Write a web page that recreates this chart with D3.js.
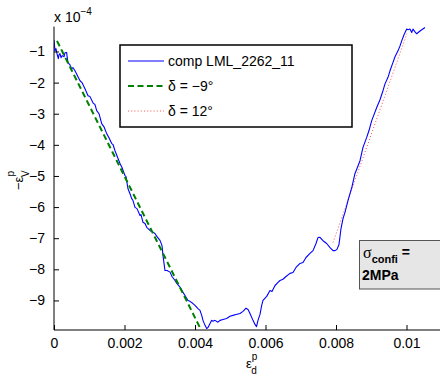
<!DOCTYPE html>
<html>
<head>
<meta charset="utf-8">
<script src="https://cdn.jsdelivr.net/npm/d3@7"></script>
<style>
  html, body { margin: 0; padding: 0; background: #fff; }
  svg { display: block; font-family: "Liberation Sans", Arial, sans-serif; }
</style>
</head>
<body>
<svg id="chart" width="440" height="376"></svg>
<script>
// ---- data (x in units of 1e-3, y in units of 1e-4) ----
const compX = [0,0.028,0.057,0.085,0.122,0.142,0.170,0.199,0.227,0.255,0.284,0.312,0.360,0.369,0.397,0.454,0.502,0.539,0.596,0.652,0.738,0.794,0.879,0.965,1.021,1.106,1.163,1.211,1.277,1.353,1.418,1.495,1.560,1.637,1.674,1.730,1.816,1.872,1.929,2.014,2.043,2.099,2.156,2.204,2.241,2.298,2.355,2.440,2.468,2.525,2.582,2.630,2.723,2.865,2.922,3.007,3.064,3.092,3.149,3.206,3.291,3.348,3.433,3.489,3.574,3.660,3.716,3.801,3.858,3.943,4.000,4.085,4.142,4.190,4.227,4.284,4.332,4.369,4.426,4.474,4.511,4.567,4.652,4.709,4.794,4.899,4.993,5.078,5.163,5.277,5.362,5.447,5.504,5.560,5.645,5.702,5.745,5.787,5.844,5.892,5.929,6.034,6.128,6.184,6.270,6.355,6.411,6.496,6.582,6.695,6.780,6.865,6.979,7.064,7.149,7.262,7.348,7.433,7.489,7.546,7.631,7.736,7.830,7.915,7.972,8.028,8.085,8.113,8.142,8.199,8.255,8.340,8.397,8.454,8.539,8.596,8.681,8.738,8.766,8.871,8.936,9.013,9.078,9.155,9.248,9.333,9.390,9.475,9.532,9.617,9.674,9.759,9.816,9.864,9.929,10.006,10.043,10.099,10.147,10.184,10.241,10.289,10.383,10.525];
const compY = [-0.63,-0.98,-0.91,-1.07,-1.23,-1.11,-1.07,-1.20,-1.14,-1.14,-1.17,-1.04,-1.03,-1.14,-1.36,-1.43,-1.56,-1.52,-1.62,-1.75,-1.94,-2.00,-2.20,-2.42,-2.45,-2.65,-2.71,-2.90,-3.00,-3.32,-3.42,-3.64,-3.77,-3.96,-3.99,-4.19,-4.44,-4.60,-4.73,-4.99,-5.02,-5.41,-5.57,-5.73,-5.79,-6.01,-6.05,-6.27,-6.24,-6.49,-6.53,-6.65,-6.75,-6.85,-6.95,-7.07,-7.24,-7.56,-8.04,-8.04,-8.09,-8.23,-8.36,-8.46,-8.57,-8.74,-8.84,-9.00,-9.03,-9.10,-9.16,-9.26,-9.32,-9.48,-9.64,-9.80,-9.90,-9.87,-9.74,-9.64,-9.67,-9.64,-9.70,-9.64,-9.61,-9.58,-9.51,-9.48,-9.45,-9.42,-9.35,-9.25,-9.29,-9.42,-9.64,-9.77,-9.84,-9.64,-9.45,-9.16,-9.00,-8.87,-8.68,-8.71,-8.52,-8.42,-8.36,-8.32,-8.23,-8.13,-8.10,-7.94,-7.81,-7.78,-7.62,-7.49,-7.40,-7.17,-6.98,-6.97,-7.08,-7.17,-7.30,-7.40,-7.40,-7.36,-7.20,-6.95,-6.69,-6.37,-6.17,-5.79,-5.57,-5.34,-4.92,-4.76,-4.51,-4.22,-4.08,-3.76,-3.54,-3.22,-3.03,-2.80,-2.55,-2.26,-2.04,-1.83,-1.62,-1.35,-1.17,-0.98,-0.82,-0.66,-0.46,-0.28,-0.30,-0.28,-0.39,-0.28,-0.37,-0.43,-0.34,-0.23];
const fitNegX = [0.085, 4.14];   // delta = -9 deg
const fitNegY = [-0.66, -9.87];
const fitPosX = [7.915, 10.01];  // delta = 12 deg
const fitPosY = [-7.14, -0.43];

const xTicks = [0, 2, 4, 6, 8, 10];
const xTickLabels = ["0", "0.002", "0.004", "0.006", "0.008", "0.01"];
const yTicks = [-9, -8, -7, -6, -5, -4, -3, -2, -1];
const yTickLabels = ["\u22129", "\u22128", "\u22127", "\u22126", "\u22125", "\u22124", "\u22123", "\u22122", "\u22121"];
const legendLabels = ["comp LML_2262_11", "\u03b4 = \u22129\u00b0", "\u03b4 = 12\u00b0"];

// ---- layout ----
const svg = d3.select("#chart");
const x = d3.scaleLinear().domain([0, 11]).range([54, 441.75]);
const y = d3.scaleLinear().domain([-9.95, -0.2]).range([330, 26.6]);

svg.append("defs").append("clipPath").attr("id", "clip")
  .append("rect").attr("x", 54).attr("y", 26.6).attr("width", 388).attr("height", 303.4);

const line = d3.line().x(d => x(d[0])).y(d => y(d[1]));

const plot = svg.append("g").attr("clip-path", "url(#clip)");

plot.append("path")
  .datum(d3.zip(fitPosX, fitPosY))
  .attr("d", line).attr("fill", "none")
  .attr("stroke", "#ff5050").attr("stroke-width", 1).attr("stroke-dasharray", "1,2.2");

plot.append("path")
  .datum(d3.zip(compX, compY))
  .attr("d", line).attr("fill", "none")
  .attr("stroke", "#0000ff").attr("stroke-width", 1.1).attr("stroke-linejoin", "round");

plot.append("path")
  .datum(d3.zip(fitNegX, fitNegY))
  .attr("d", line).attr("fill", "none")
  .attr("stroke", "#008000").attr("stroke-width", 2).attr("stroke-dasharray", "6,3.5");

// ---- axes ----
const xAxis = d3.axisBottom(x).tickValues(xTicks).tickSizeInner(-5).tickSizeOuter(0)
  .tickFormat((d, i) => xTickLabels[i]).tickPadding(8);
const gx = svg.append("g").attr("transform", "translate(0,330)").call(xAxis);
gx.select(".domain").attr("d", "M54,0H440").attr("stroke", "#000");
gx.selectAll("text").attr("font-size", 14).attr("font-family", "Liberation Sans, Arial, sans-serif").attr("fill", "#000");

const yAxis = d3.axisLeft(y).tickValues(yTicks).tickSizeInner(-5).tickSizeOuter(0)
  .tickFormat((d, i) => yTickLabels[i]).tickPadding(9);
const gy = svg.append("g").attr("transform", "translate(54,0)").call(yAxis);
gy.select(".domain").attr("d", "M0,26.6V330").attr("stroke", "#000");
gy.selectAll("text").attr("font-size", 14).attr("font-family", "Liberation Sans, Arial, sans-serif").attr("fill", "#000");

// exponent label
const expT = svg.append("text").attr("x", 54).attr("y", 22).attr("font-size", 14).attr("fill", "#000");
expT.append("tspan").text("x 10");
expT.append("tspan").attr("dy", -7).attr("font-size", 10).text("\u22124");

// x label
const xl = svg.append("text").attr("x", 246).attr("y", 368).attr("font-size", 13).attr("fill", "#000");
xl.append("tspan").text("\u03b5");
xl.append("tspan").attr("font-size", 10).attr("dy", -8).text("p");
xl.append("tspan").attr("font-size", 10).attr("dx", -6).attr("dy", 14).text("d");

// y label (rotated)
const yl = svg.append("text").attr("transform", "translate(23,190) rotate(-90)").attr("font-size", 13).attr("fill", "#000");
yl.append("tspan").text("\u2212\u03b5");
yl.append("tspan").attr("font-size", 10).attr("dy", -9).text("p");
yl.append("tspan").attr("font-size", 10).attr("dx", -6).attr("dy", 15).text("V");

// ---- legend ----
const lg = svg.append("g");
lg.append("rect").attr("x", 120).attr("y", 45).attr("width", 232).attr("height", 82)
  .attr("fill", "#fff").attr("stroke", "#000").attr("stroke-width", 1.5);
const legStyles = [
  {stroke: "#0000ff", width: 1, dash: null},
  {stroke: "#008000", width: 2, dash: "6,3.5"},
  {stroke: "#ff5050", width: 1, dash: "1,2.2"}
];
const legY = [61, 86, 111];
legendLabels.forEach((lab, i) => {
  lg.append("line").attr("x1", 128).attr("x2", 164).attr("y1", legY[i]).attr("y2", legY[i])
    .attr("stroke", legStyles[i].stroke).attr("stroke-width", legStyles[i].width)
    .attr("stroke-dasharray", legStyles[i].dash);
  lg.append("text").attr("x", 168).attr("y", legY[i] + 5).attr("font-size", 14).attr("fill", "#000").text(lab);
});

// ---- annotation box ----
const an = svg.append("g");
an.append("rect").attr("x", 359.5).attr("y", 240.5).attr("width", 100).attr("height", 48.5)
  .attr("fill", "#e6e6e6").attr("stroke", "#555").attr("stroke-width", 1);
const at = an.append("text").attr("x", 363).attr("y", 258).attr("fill", "#000").attr("font-weight", "bold");
at.append("tspan").attr("font-family", "Liberation Serif, Times New Roman, serif").attr("font-weight", "normal").attr("font-size", 16).text("\u03c3");
at.append("tspan").attr("font-size", 11).attr("dy", 5).text("confi");
at.append("tspan").attr("font-size", 14).attr("dy", -6).text(" =");
an.append("text").attr("x", 362).attr("y", 280).attr("font-size", 14).attr("font-weight", "bold").attr("fill", "#000").text("2MPa");
</script>
</body>
</html>
